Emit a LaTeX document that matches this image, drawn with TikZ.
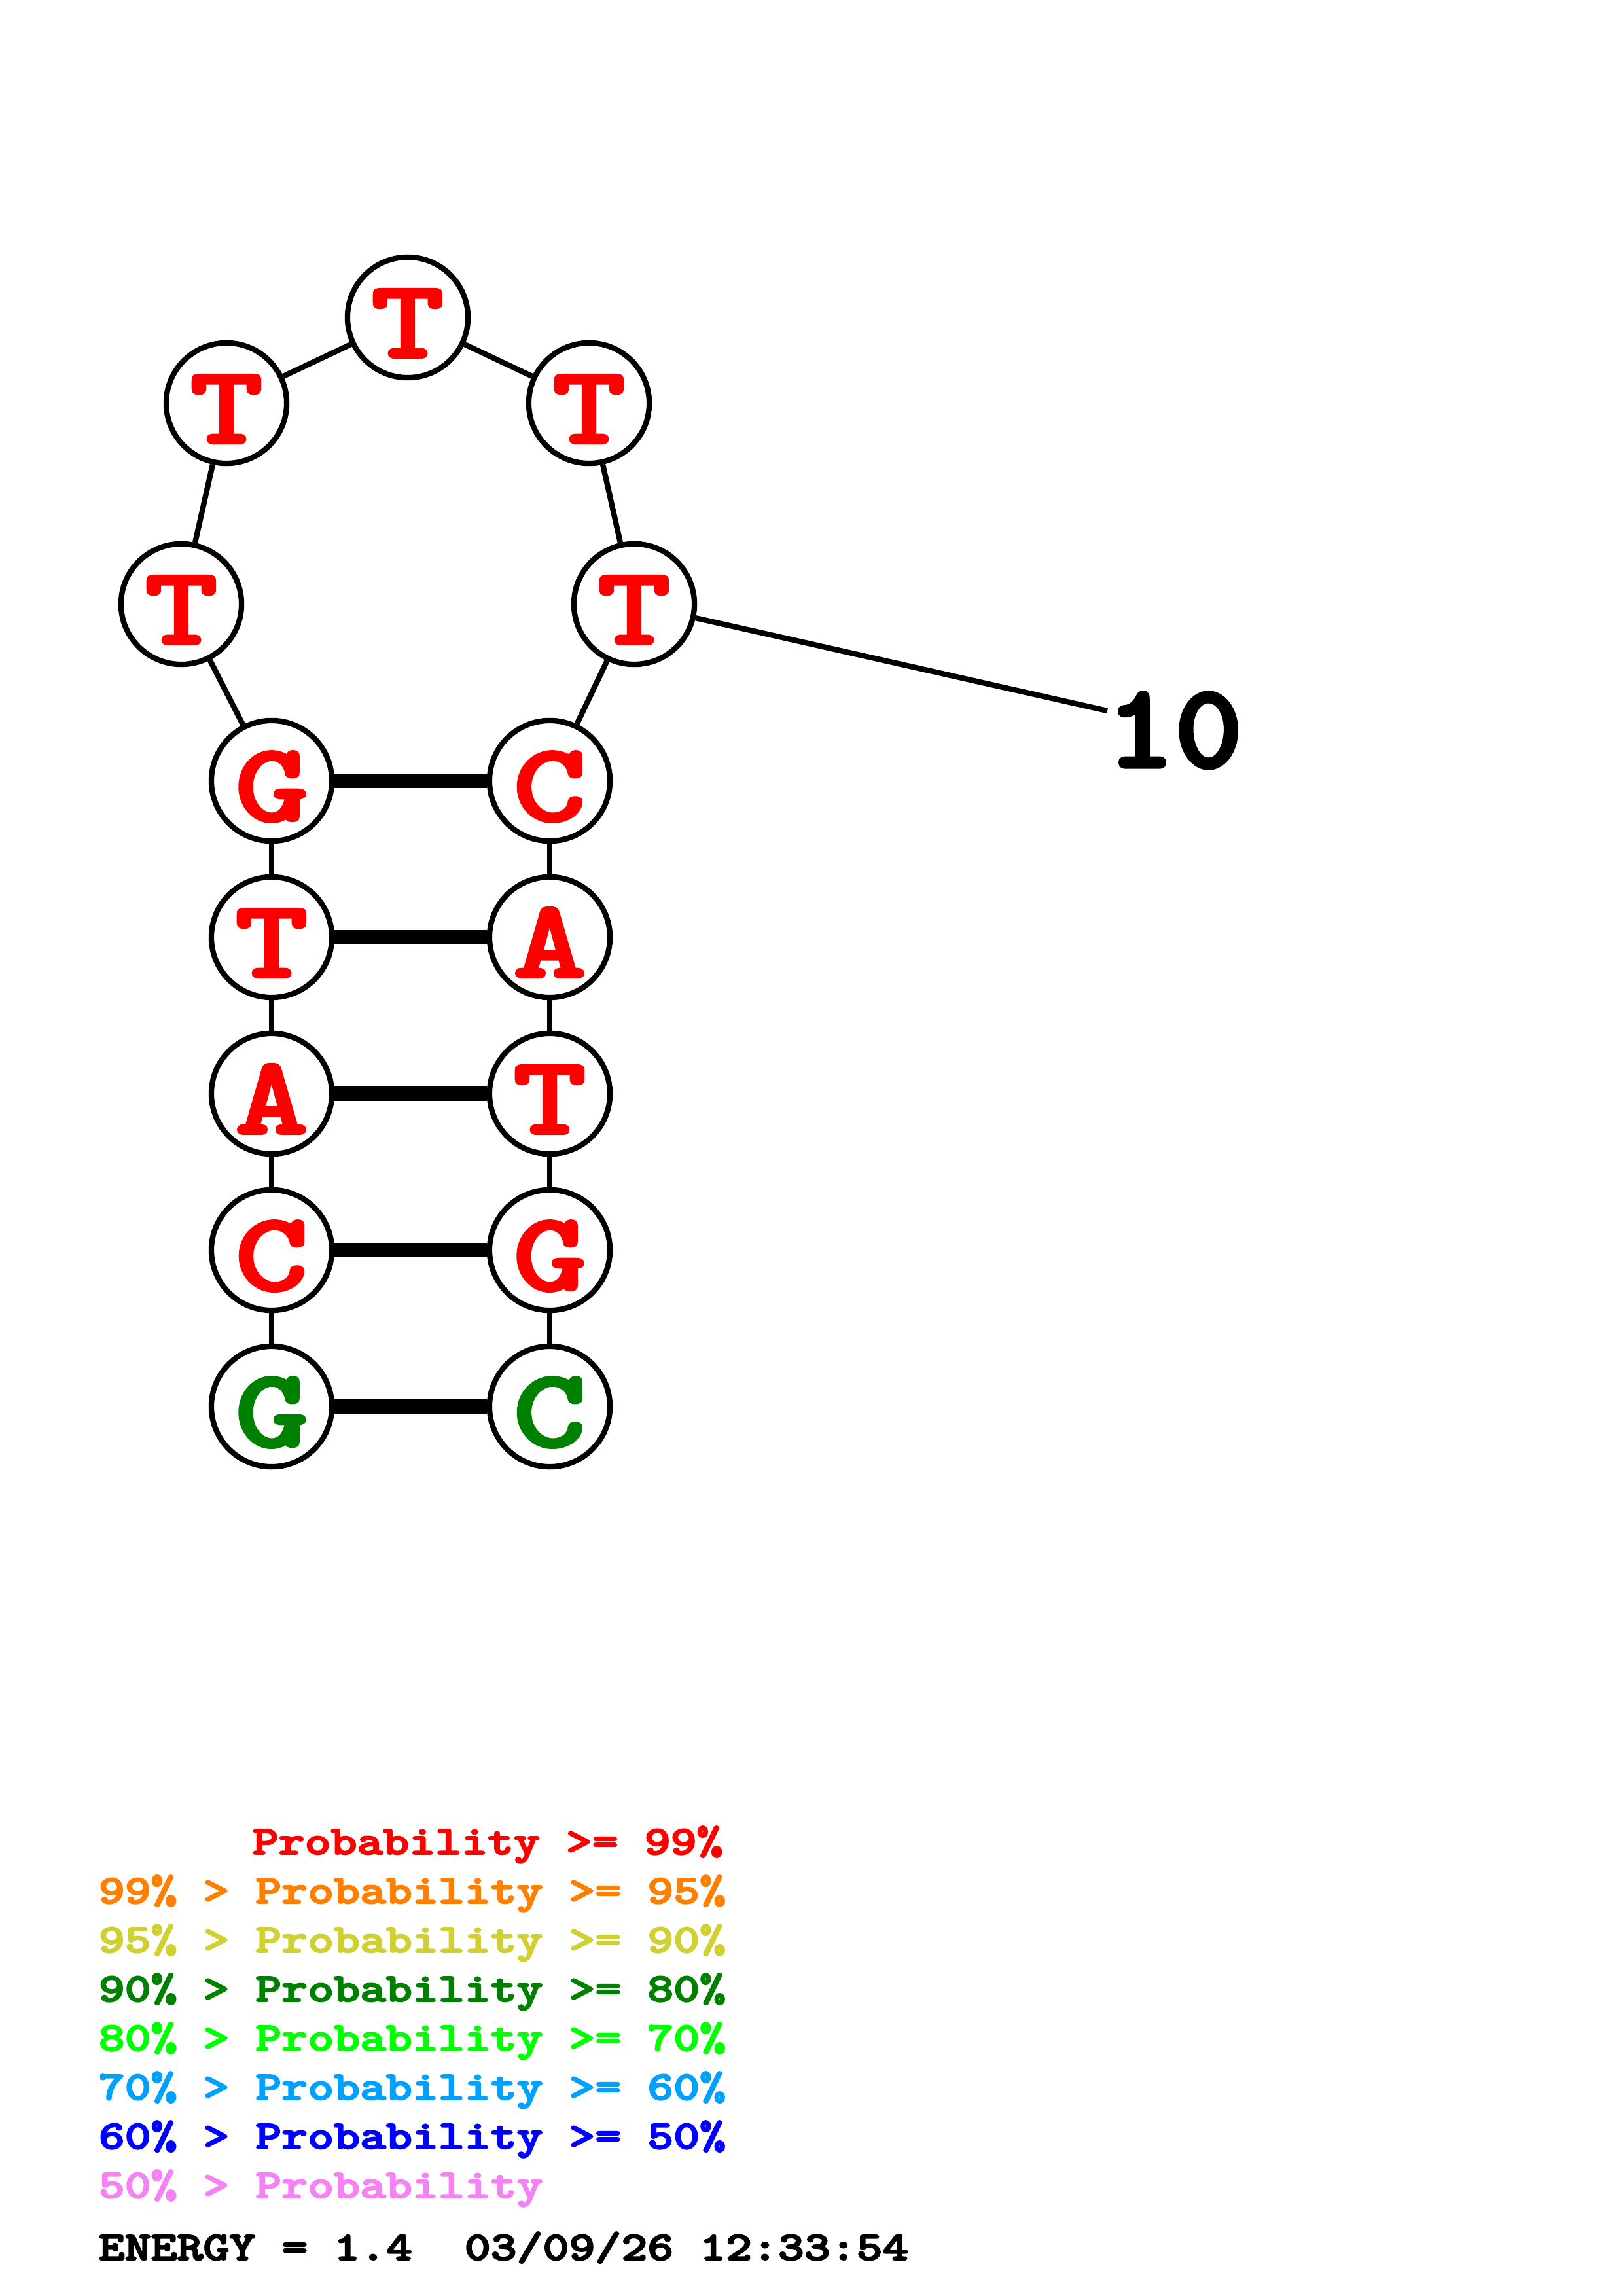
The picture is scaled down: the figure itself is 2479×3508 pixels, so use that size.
\documentclass[tikz,border=0pt]{standalone}
\usepackage{graphicx}
\definecolor{pRed}{RGB}{255,0,0}
\definecolor{pOrange}{RGB}{255,128,0}
\definecolor{pYellow}{RGB}{208,208,50}
\definecolor{pDkGreen}{RGB}{0,128,0}
\definecolor{pLime}{RGB}{0,255,0}
\definecolor{pSky}{RGB}{0,160,255}
\definecolor{pBlue}{RGB}{0,0,255}
\definecolor{pPink}{RGB}{245,130,245}
\newcommand\heavytxt[2]{\special{pdf:literal direct 2 Tr #1 w}#2\special{pdf:literal direct 0 Tr}}
\newcommand\stretchtxt[1]{\scalebox{1.25}[1]{\heavytxt{0.9}{#1}}}
\newcommand\legtxt[1]{\scalebox{1.225}[1]{\heavytxt{0.45}{#1}}}
\begin{document}
\begin{tikzpicture}[x=0.24pt,y=-0.24pt,
  base/.style={circle,draw=black,line width=2pt,fill=white,minimum size=44.2pt,
    inner sep=0pt,font=\fontsize{41}{41}\selectfont\ttfamily\bfseries,
    text height=30pt,text depth=0.6pt},
  hi/.style={base,text=pRed},
  mid/.style={base,text=pDkGreen},
  backbone/.style={draw=black,line width=2pt},
  pairbond/.style={draw=black,line width=5.3pt},
  legend/.style={anchor=base west,inner sep=0pt,
    font=\fontsize{14.9}{14.9}\selectfont\ttfamily\bfseries},
  numlabel/.style={anchor=base west,inner sep=0pt,
    font=\fontsize{44}{44}\selectfont\ttfamily\bfseries}]
\fill[white] (0,0) rectangle (2479,3508);
% stem nodes
\node[mid] (L1) at (415,2149) {\stretchtxt{G}};
\node[hi]  (L2) at (415,1910) {\stretchtxt{C}};
\node[hi]  (L3) at (415,1671) {\stretchtxt{A}};
\node[hi]  (L4) at (415,1432) {\stretchtxt{T}};
\node[hi]  (L5) at (415,1193) {\stretchtxt{G}};
\node[hi]  (P6) at (277,923) {\stretchtxt{T}};
\node[hi]  (P7) at (346,616) {\stretchtxt{T}};
\node[hi]  (P8) at (623,485) {\stretchtxt{T}};
\node[hi]  (P9) at (900,616) {\stretchtxt{T}};
\node[hi]  (P10) at (969,923) {\stretchtxt{T}};
\node[hi]  (R5) at (840,1193) {\stretchtxt{C}};
\node[hi]  (R4) at (840,1432) {\stretchtxt{A}};
\node[hi]  (R3) at (840,1671) {\stretchtxt{T}};
\node[hi]  (R2) at (840,1910) {\stretchtxt{G}};
\node[mid] (R1) at (840,2149) {\stretchtxt{C}};
% backbone
\path[backbone] (L1) -- (L2);
\path[backbone] (L2) -- (L3);
\path[backbone] (L3) -- (L4);
\path[backbone] (L4) -- (L5);
\path[backbone] (L5) -- (P6);
\path[backbone] (P6) -- (P7);
\path[backbone] (P7) -- (P8);
\path[backbone] (P8) -- (P9);
\path[backbone] (P9) -- (P10);
\path[backbone] (P10) -- (R5);
\path[backbone] (R5) -- (R4);
\path[backbone] (R4) -- (R3);
\path[backbone] (R3) -- (R2);
\path[backbone] (R2) -- (R1);
% base pairs
\path[pairbond] (L5) -- (R5);
\path[pairbond] (L4) -- (R4);
\path[pairbond] (L3) -- (R3);
\path[pairbond] (L2) -- (R2);
\path[pairbond] (L1) -- (R1);
% position label
\coordinate (tick10) at (1692,1086);
\node[numlabel] (lab10) at (1690,1172) {\scalebox{1.08}[1]{\heavytxt{1.3}{10}}};
\path[backbone] (P10) -- (tick10);
% legend
\node[legend,text=pRed]     (lg1) at (385,2833) {\legtxt{Probability~>=~99\%}};
\node[legend,text=pOrange]  (lg2) at (150,2908) {\legtxt{99\%~>~Probability~>=~95\%}};
\node[legend,text=pYellow]  (lg3) at (150,2983) {\legtxt{95\%~>~Probability~>=~90\%}};
\node[legend,text=pDkGreen] (lg4) at (150,3058) {\legtxt{90\%~>~Probability~>=~80\%}};
\node[legend,text=pLime]    (lg5) at (150,3133) {\legtxt{80\%~>~Probability~>=~70\%}};
\node[legend,text=pSky]     (lg6) at (150,3208) {\legtxt{70\%~>~Probability~>=~60\%}};
\node[legend,text=pBlue]    (lg7) at (150,3283) {\legtxt{60\%~>~Probability~>=~50\%}};
\node[legend,text=pPink]    (lg8) at (150,3358) {\legtxt{50\%~>~Probability}};
\node[legend,text=black]    (energy) at (150,3453) {\legtxt{ENERGY~=~1.4~~03/09/26~12:33:54}};
\end{tikzpicture}
\end{document}
